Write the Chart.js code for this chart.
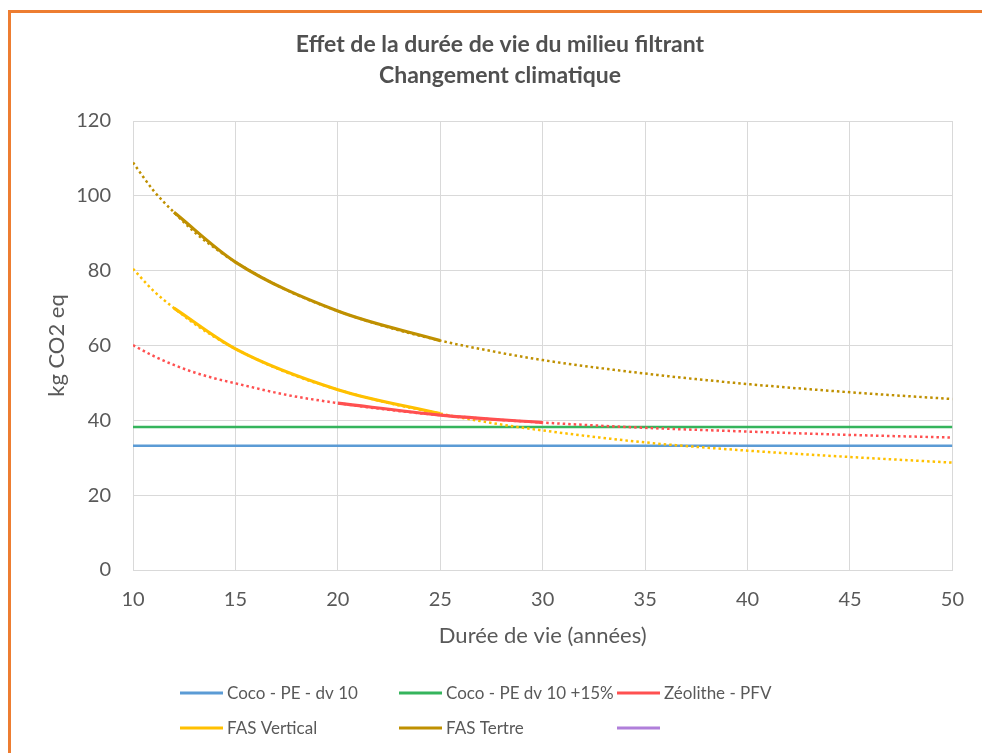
<!DOCTYPE html>
<html>
<head>
<meta charset="utf-8">
<script src="https://cdn.jsdelivr.net/npm/chart.js@4.4.1/dist/chart.umd.min.js"></script>
<style>
  html, body { margin: 0; padding: 0; background: #ffffff; width: 982px; height: 753px; overflow: hidden; }
  #wrap { position: relative; width: 982px; height: 753px; }
  #frame { position: absolute; left: 8px; top: 10px; width: 990px; height: 760px;
           border-left: 3px solid #ED7D31; border-top: 3px solid #ED7D31; pointer-events: none; }
  canvas { position: absolute; left: 0; top: 0; }
</style>
</head>
<body>
<div id="wrap">
  <canvas id="c" width="982" height="753"></canvas>
  <div id="frame"></div>
</div>
<script>
// ---- Data ----
const titleLines = ['Effet de la durée de vie du milieu filtrant', 'Changement climatique'];
const xTitle = 'Durée de vie (années)';
const yTitle = 'kg CO2 eq';

const seriesNames = ['Coco - PE - dv 10', 'Coco - PE dv 10 +15%', 'Zéolithe - PFV', 'FAS Vertical', 'FAS Tertre', ''];
const seriesColors = ['#5B9BD5', '#35B45C', '#FF5050', '#FFC000', '#BF9000', '#B07FDA'];

// Constant reference lines
const cocoYears = [10, 50];
const cocoValues = [33.2, 33.2];
const coco15Years = [10, 50];
const coco15Values = [38.2, 38.2];

// Measured series (solid lines)
const zeoYears = [20, 25, 30];
const zeoValues = [44.6, 41.4, 39.4];
const fasVertYears = [12, 15, 20, 25];
const fasVertValues = [70.0, 59.1, 48.2, 41.8];
const fasTertreYears = [12, 15, 20, 25];
const fasTertreValues = [95.6, 82.3, 69.2, 61.3];

// Trend lines (dotted)
const trendYears = [10, 11, 12, 13, 14, 15, 17.5, 20, 22.5, 25, 27.5, 30, 35, 40, 45, 50];
const zeoTrend = [60.1, 57.2, 54.8, 52.8, 51.2, 49.9, 46.8, 44.6, 42.8, 41.4, 40.3, 39.4, 38.0, 37.0, 36.1, 35.4];
const fasVertTrend = [80.5, 74.6, 70.0, 65.8, 62.2, 59.1, 52.8, 48.2, 44.6, 41.8, 39.3, 37.3, 34.1, 31.9, 30.2, 28.7];
const fasTertreTrend = [108.9, 101.4, 95.6, 90.3, 86.0, 82.3, 74.8, 69.2, 64.8, 61.3, 58.5, 56.1, 52.5, 49.7, 47.5, 45.7];

const xTicks = [10, 15, 20, 25, 30, 35, 40, 45, 50];
const yTicks = [0, 20, 40, 60, 80, 100, 120];

// ---- Build datasets ----
function pts(xs, ys) { return xs.map((x, i) => ({ x: x, y: ys[i] })); }

const FONT = 'Lato, "Open Sans", "Liberation Sans", sans-serif';
const TEXT = '#595959';

const datasets = [
  { label: seriesNames[0], data: pts(cocoYears, cocoValues), borderColor: seriesColors[0], borderWidth: 2.5, order: 3 },
  { label: seriesNames[1], data: pts(coco15Years, coco15Values), borderColor: seriesColors[1], borderWidth: 2.5, order: 3 },
  { label: seriesNames[2], data: pts(zeoYears, zeoValues), borderColor: seriesColors[2], borderWidth: 3.2, order: 1, cubicInterpolationMode: 'monotone' },
  { label: seriesNames[3], data: pts(fasVertYears, fasVertValues), borderColor: seriesColors[3], borderWidth: 3.2, order: 1, cubicInterpolationMode: 'monotone' },
  { label: seriesNames[4], data: pts(fasTertreYears, fasTertreValues), borderColor: seriesColors[4], borderWidth: 3.2, order: 1, cubicInterpolationMode: 'monotone' },
  { label: seriesNames[5], data: [], borderColor: seriesColors[5], borderWidth: 3, order: 1 },
  { label: 'trend-zeo', isTrend: true, data: pts(trendYears, zeoTrend), borderColor: seriesColors[2], borderWidth: 2.5, borderDash: [2.5, 3], order: 2, cubicInterpolationMode: 'monotone' },
  { label: 'trend-vert', isTrend: true, data: pts(trendYears, fasVertTrend), borderColor: seriesColors[3], borderWidth: 2.5, borderDash: [2.5, 3], order: 2, cubicInterpolationMode: 'monotone' },
  { label: 'trend-tertre', isTrend: true, data: pts(trendYears, fasTertreTrend), borderColor: seriesColors[4], borderWidth: 2.5, borderDash: [2.5, 3], order: 2, cubicInterpolationMode: 'monotone' }
];
datasets.forEach(d => { d.pointRadius = 0; d.pointHoverRadius = 0; d.fill = false; d.backgroundColor = d.borderColor; });

// Excel-like legend drawn in fixed columns
const legendPlugin = {
  id: 'gridLegend',
  afterDraw(chart) {
    const ctx = chart.ctx;
    const cols = [180, 399, 617];
    const rows = [693, 728];
    ctx.save();
    ctx.font = '17px ' + FONT;
    ctx.textBaseline = 'middle';
    ctx.textAlign = 'left';
    const items = chart.data.datasets.filter(d => !d.isTrend);
    items.forEach((d, i) => {
      const x = cols[i % 3];
      const y = rows[Math.floor(i / 3)];
      ctx.strokeStyle = d.borderColor;
      ctx.lineWidth = 3;
      ctx.beginPath();
      ctx.moveTo(x, y);
      ctx.lineTo(x + 43, y);
      ctx.stroke();
      ctx.fillStyle = TEXT;
      ctx.fillText(d.label, x + 47, y + 1);
    });
    ctx.restore();
  }
};

new Chart(document.getElementById('c'), {
  type: 'line',
  data: { datasets: datasets },
  plugins: [legendPlugin],
  options: {
    responsive: false,
    animation: false,
    devicePixelRatio: 1,
    layout: { padding: { left: 44, right: 26, top: 0, bottom: 103 } },
    plugins: {
      legend: { display: false },
      tooltip: { enabled: false },
      title: {
        display: true,
        text: titleLines,
        color: '#505050',
        font: { family: FONT, size: 23, weight: 'bold', lineHeight: 31 / 23 },
        padding: { top: 29.5, bottom: 29.5 }
      }
    },
    scales: {
      x: {
        type: 'linear',
        min: 10, max: 50,
        afterFit: s => { s.height = 80; },
        afterBuildTicks: s => { s.ticks = xTicks.map(v => ({ value: v })); },
        grid: { color: '#D9D9D9', lineWidth: 1, drawTicks: false },
        border: { color: '#D9D9D9' },
        ticks: { color: TEXT, font: { family: FONT, size: 20 }, padding: 18, maxRotation: 0 },
        title: { display: true, text: xTitle, color: TEXT, font: { family: FONT, size: 22 }, padding: { top: 0, bottom: 1 } }
      },
      y: {
        min: 0, max: 120,
        afterFit: s => { s.width = 89; },
        afterBuildTicks: s => { s.ticks = yTicks.map(v => ({ value: v })); },
        grid: { color: '#D9D9D9', lineWidth: 1, drawTicks: false },
        border: { color: '#D9D9D9' },
        ticks: { color: TEXT, font: { family: FONT, size: 20 }, padding: 22 },
        title: { display: true, text: yTitle, color: TEXT, font: { family: FONT, size: 22 }, padding: { top: 0, bottom: 0 } }
      }
    }
  }
});
</script>
</body>
</html>
